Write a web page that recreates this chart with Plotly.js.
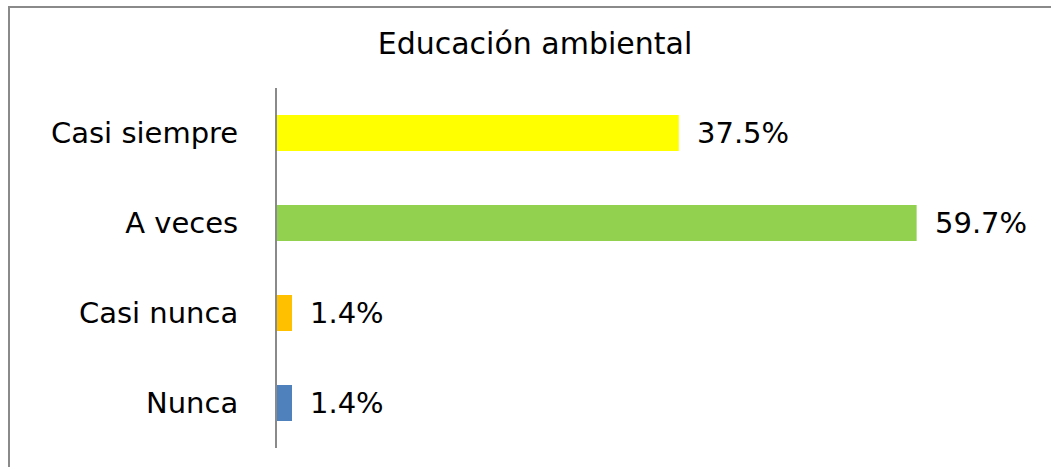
<!DOCTYPE html>
<html>
<head>
<meta charset="utf-8">
<script src="https://cdn.plot.ly/plotly-3.0.1.min.js"></script>
<style>
html,body{margin:0;padding:0;background:#fff;}
#wrap{position:relative;width:1051px;height:467px;overflow:hidden;}
#chart{position:absolute;left:0;top:0;width:1051px;height:467px;}
#frame{position:absolute;left:8px;top:6px;width:1100px;height:500px;border-left:2px solid #8a8a8a;border-top:2px solid #8a8a8a;pointer-events:none;}
</style>
</head>
<body>
<div id="wrap"><div id="chart"></div><div id="frame"></div></div>
<script>
const categories = ["Nunca", "Casi nunca", "A veces", "Casi siempre"];
const values = [1.4, 1.4, 59.7, 37.5];
const labels = ["1.4%", "1.4%", "59.7%", "37.5%"];
const colors = ["#4F81BD", "#FFC000", "#92D050", "#FFFF00"];

const font = "DejaVu Sans, Verdana, sans-serif";

const trace = {
  type: "bar",
  orientation: "h",
  y: categories,
  x: values,
  marker: {color: colors, line: {width: 0}},
  hoverinfo: "none"
};

const annotations = categories.map((c, i) => ({
  x: values[i], y: c, xref: "x", yref: "y",
  text: labels[i], showarrow: false,
  xanchor: "left", yanchor: "middle", xshift: 16,
  font: {family: font, size: 29, color: "#000"}
}));

const layout = {
  width: 1051, height: 467,
  margin: {l: 277, r: 24, t: 88, b: 19},
  paper_bgcolor: "#fff", plot_bgcolor: "#fff",
  bargap: 0.6,
  showlegend: false,
  title: {
    text: "Educación ambiental",
    xref: "container", x: 0.509, xanchor: "center",
    yref: "container", y: 0.906, yanchor: "middle",
    font: {family: font, size: 30, color: "#000"}
  },
  xaxis: {
    range: [0, 70], showgrid: false, zeroline: false,
    showticklabels: false, showline: false, ticks: ""
  },
  yaxis: {
    showgrid: false, zeroline: false,
    showline: true, linecolor: "#8a8a8a", linewidth: 2,
    ticks: "", ticklabelstandoff: 31,
    tickfont: {family: font, size: 29, color: "#000"}
  },
  annotations: annotations
};

Plotly.newPlot("chart", [trace], layout, {staticPlot: true, displayModeBar: false});
</script>
</body>
</html>
